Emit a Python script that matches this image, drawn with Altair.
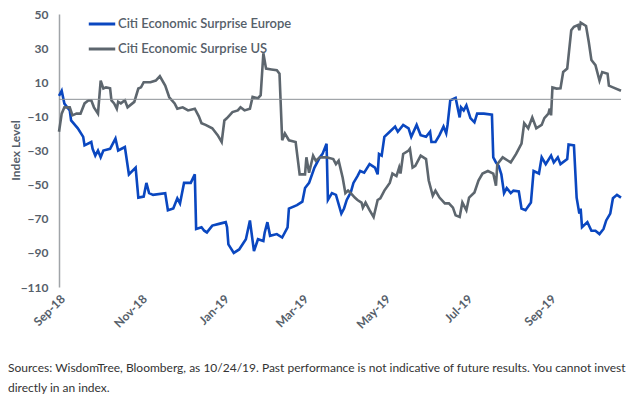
import altair as alt
import pandas as pd

series_names = ["Citi Economic Surprise Europe", "Citi Economic Surprise US"]
series_colors = ["#0a47c0", "#5d666e"]

europe_dates = [
    "2018-09-01", "2018-09-03", "2018-09-05", "2018-09-09", "2018-09-10", "2018-09-15",
    "2018-09-19", "2018-09-20", "2018-09-25", "2018-09-26", "2018-09-28", "2018-09-30",
    "2018-10-02", "2018-10-04", "2018-10-09", "2018-10-13", "2018-10-15", "2018-10-20",
    "2018-10-23", "2018-10-28", "2018-10-30", "2018-11-03", "2018-11-05", "2018-11-07",
    "2018-11-10", "2018-11-19", "2018-11-21", "2018-11-25", "2018-11-28", "2018-11-30",
    "2018-12-03", "2018-12-08", "2018-12-11", "2018-12-12", "2018-12-16", "2018-12-18",
    "2018-12-20", "2018-12-24", "2018-12-29", "2019-01-03", "2019-01-04", "2019-01-05",
    "2019-01-09", "2019-01-13", "2019-01-18", "2019-01-21", "2019-01-24", "2019-01-27",
    "2019-01-31", "2019-02-01", "2019-02-03", "2019-02-05", "2019-02-10", "2019-02-14",
    "2019-02-18", "2019-02-19", "2019-02-25", "2019-03-01", "2019-03-03", "2019-03-06",
    "2019-03-10", "2019-03-14", "2019-03-16", "2019-03-19", "2019-03-20", "2019-03-23",
    "2019-03-26", "2019-03-30", "2019-04-01", "2019-04-03", "2019-04-06", "2019-04-08",
    "2019-04-11", "2019-04-13", "2019-04-16", "2019-04-20", "2019-04-24", "2019-04-26",
    "2019-04-27", "2019-04-29", "2019-05-01", "2019-05-05", "2019-05-09", "2019-05-11",
    "2019-05-15", "2019-05-19", "2019-05-21", "2019-05-25", "2019-05-28", "2019-06-01",
    "2019-06-04", "2019-06-05", "2019-06-08", "2019-06-11", "2019-06-14", "2019-06-16",
    "2019-06-17", "2019-06-19", "2019-06-23", "2019-06-26", "2019-06-27", "2019-06-29",
    "2019-07-01", "2019-07-04", "2019-07-07", "2019-07-09", "2019-07-14", "2019-07-20",
    "2019-07-21", "2019-07-23", "2019-07-25", "2019-07-27", "2019-07-29", "2019-07-31",
    "2019-08-03", "2019-08-05", "2019-08-09", "2019-08-11", "2019-08-14", "2019-08-18",
    "2019-08-20", "2019-08-24", "2019-08-26", "2019-08-29", "2019-09-02", "2019-09-04",
    "2019-09-07", "2019-09-09", "2019-09-14", "2019-09-15", "2019-09-19", "2019-09-21",
    "2019-09-23", "2019-09-24", "2019-09-25", "2019-09-29", "2019-10-02", "2019-10-05",
    "2019-10-08", "2019-10-11", "2019-10-13", "2019-10-16", "2019-10-18", "2019-10-21",
    "2019-10-24",
]
europe_values = [
    2, 5, -2.5, -6.5, -12.4, -17,
    -22, -27, -25, -29, -33, -30,
    -34, -30, -29, -23, -30, -28,
    -44, -40, -57.6, -57, -49, -55,
    -56, -55, -65, -64, -58, -61,
    -49, -49, -44, -76, -75, -77,
    -78, -74, -73, -72, -75, -85,
    -90, -88, -82, -71, -89, -82,
    -83, -78, -72, -80, -79, -81,
    -75, -64, -62, -60, -52, -49,
    -40, -34, -32, -26, -59, -55,
    -56, -67, -64, -59, -54.6, -49,
    -45, -42, -43, -38, -40, -44,
    -32, -33, -22, -19, -16, -19,
    -15, -17, -22, -15, -21, -22,
    -19, -25, -25, -21, -16, -20,
    -15, -0.6, 0.8, -10.6, -4.7, -6.5,
    -3.5, -11, -13.5, -8.4, -8.4, -9,
    -34, -37, -39, -44, -55, -52,
    -55, -53.5, -54, -64, -65, -60.5,
    -42, -43.5, -34, -38, -33, -37,
    -34, -38, -35, -26.5, -27, -57.6,
    -67, -64, -75, -72, -77, -77,
    -79, -76, -71, -67, -58, -56,
    -57.6,
]

us_dates = [
    "2018-09-01", "2018-09-03", "2018-09-05", "2018-09-09", "2018-09-11", "2018-09-14",
    "2018-09-17", "2018-09-20", "2018-09-23", "2018-09-25", "2018-09-27", "2018-09-30",
    "2018-10-02", "2018-10-04", "2018-10-06", "2018-10-09", "2018-10-10", "2018-10-12",
    "2018-10-14", "2018-10-15", "2018-10-17", "2018-10-20", "2018-10-22", "2018-10-27",
    "2018-10-30", "2018-11-01", "2018-11-03", "2018-11-08", "2018-11-12", "2018-11-15",
    "2018-11-19", "2018-11-22", "2018-11-26", "2018-11-28", "2018-12-02", "2018-12-06",
    "2018-12-11", "2018-12-14", "2018-12-16", "2018-12-19", "2018-12-24", "2018-12-28",
    "2018-12-31", "2019-01-02", "2019-01-04", "2019-01-08", "2019-01-12", "2019-01-14",
    "2019-01-17", "2019-01-21", "2019-01-23", "2019-01-27", "2019-01-29", "2019-01-31",
    "2019-02-02", "2019-02-06", "2019-02-10", "2019-02-12", "2019-02-14", "2019-02-16",
    "2019-02-19", "2019-02-24", "2019-02-27", "2019-03-03", "2019-03-04", "2019-03-06",
    "2019-03-09", "2019-03-11", "2019-03-14", "2019-03-19", "2019-03-24", "2019-03-26",
    "2019-03-28", "2019-03-31", "2019-04-02", "2019-04-04", "2019-04-06", "2019-04-09",
    "2019-04-11", "2019-04-14", "2019-04-15", "2019-04-17", "2019-04-20", "2019-04-23",
    "2019-04-26", "2019-04-28", "2019-05-01", "2019-05-05", "2019-05-07", "2019-05-10",
    "2019-05-12", "2019-05-13", "2019-05-15", "2019-05-19", "2019-05-20", "2019-05-22",
    "2019-05-24", "2019-05-28", "2019-06-01", "2019-06-03", "2019-06-06", "2019-06-08",
    "2019-06-11", "2019-06-15", "2019-06-18", "2019-06-21", "2019-06-23", "2019-06-26",
    "2019-06-28", "2019-07-01", "2019-07-03", "2019-07-07", "2019-07-10", "2019-07-13",
    "2019-07-17", "2019-07-21", "2019-07-23", "2019-07-24", "2019-07-28", "2019-08-01",
    "2019-08-03", "2019-08-07", "2019-08-11", "2019-08-13", "2019-08-16", "2019-08-19",
    "2019-08-22", "2019-08-26", "2019-08-28", "2019-08-31", "2019-09-01", "2019-09-02",
    "2019-09-03", "2019-09-06", "2019-09-09", "2019-09-11", "2019-09-14", "2019-09-17",
    "2019-09-19", "2019-09-22", "2019-09-23", "2019-09-24", "2019-09-28", "2019-09-30",
    "2019-10-02", "2019-10-05", "2019-10-08", "2019-10-10", "2019-10-14", "2019-10-15",
    "2019-10-18", "2019-10-24",
]
us_values = [
    -19, -8.4, -4.7, -4.7, -9.4, -8.4,
    -8.4, -2.4, -0.6, -0.6, -4.7, -8.4,
    11, 6.3, 7, 6.5, -0.6, -2.4,
    -5.5, -1.5, -2.4, -0.6, -4.7, -1.5,
    6.3, 7, 10, 10, 11, 13.5,
    8, 1.2, -2.4, -5.5, -4.7, -6.5,
    -5.5, -10, -14, -15, -17, -21,
    -25, -12.4, -11, -7.5, -6.5, -4.7,
    -6.5, -5.5, 1.4, 0.6, 2.4, 27,
    18, 17.5, 17, 15, -24, -20,
    -24, -25, -44, -44, -34, -43,
    -33, -36, -34, -34, -35, -38,
    -36, -46, -55, -53.5, -55, -57.6,
    -59, -60.5, -63.5, -60.5, -65, -69,
    -59, -58, -53.5, -49, -43.5, -45,
    -40, -43.5, -32, -30, -29, -40,
    -39, -33, -35, -47.6, -56.5, -53.5,
    -57.6, -61, -61, -63.5, -68, -69,
    -60.5, -65, -57.6, -54.6, -47.6, -43.5,
    -42, -43.5, -50.6, -38, -34, -36,
    -37, -32, -26, -14, -17, -10.6,
    -17, -15, -11, -8.4, -5.5, -9.4,
    7, 6.3, 6.5, 16, 18, 40.5,
    42.5, 43.5, 40.5, 45, 43, 33.7,
    23, 20, 11, 16, 15, 8,
    7, 5,
]

y_ticks = [50, 30, 10, -10, -30, -50, -70, -90, -110]
x_tick_dates = ["2018-09-01", "2018-11-01", "2019-01-01", "2019-03-01",
                "2019-05-01", "2019-07-01", "2019-09-01"]
x_domain = ["2018-09-01", "2019-10-24"]
footnote_lines = [
    "Sources: WisdomTree, Bloomberg, as 10/24/19. Past performance is not indicative of future results. You cannot invest",
    "directly in an index.",
]


def dt(s):
    y, m, d = (int(p) for p in s.split("-"))
    return alt.DateTime(year=y, month=m, date=d)


df = pd.concat([
    pd.DataFrame({"date": pd.to_datetime(europe_dates), "value": europe_values,
                  "series": series_names[0]}),
    pd.DataFrame({"date": pd.to_datetime(us_dates), "value": us_values,
                  "series": series_names[1]}),
])

FONT = "Lato"
AXIS_COLOR = "#56606a"

y_scale = alt.Scale(domain=[-110, 50], nice=False, zero=False)
y_axis = alt.Axis(values=y_ticks, title="Index Level", grid=False, ticks=False,
                  domain=True, domainColor="#a0a4a8", domainWidth=1.5,
                  labelPadding=11, labelFontSize=12, labelFontWeight="bold",
                  labelColor=AXIS_COLOR, labelFont=FONT, labelOverlap=False,
                  labelFlush=False, titleFontSize=12, titleFontWeight="bold",
                  titleColor=AXIS_COLOR, titleFont=FONT, titleAngle=-90,
                  titleX=-37, titleY=136, titleAlign="center", titleBaseline="bottom")

lines = alt.Chart(df).mark_line(strokeWidth=2.6).encode(
    x=alt.X("date:T",
            scale=alt.Scale(domain=[dt(x_domain[0]), dt(x_domain[1])]),
            axis=alt.Axis(values=[dt(s) for s in x_tick_dates], format="%b-%y",
                          labelAngle=-45, title=None, domain=False, ticks=False,
                          grid=False, labelFontSize=12, labelFontWeight="bold",
                          labelColor=AXIS_COLOR, labelFont=FONT, labelPadding=6,
                          labelOverlap=False)),
    y=alt.Y("value:Q", scale=y_scale, axis=y_axis),
    color=alt.Color("series:N",
                    scale=alt.Scale(domain=series_names, range=series_colors),
                    legend=alt.Legend(title=None, orient="none", legendX=28, legendY=-5,
                                      symbolType="stroke", symbolSize=700,
                                      symbolStrokeWidth=3, labelFontSize=13,
                                      labelFontWeight=600, labelColor=AXIS_COLOR,
                                      labelFont=FONT, rowPadding=3, labelOffset=1,
                                      labelLimit=400, padding=0)),
)

zero_rule = alt.Chart(pd.DataFrame({"y": [0]})).mark_rule(
    color="#8c9196", strokeWidth=1).encode(y=alt.Y("y:Q", scale=y_scale, axis=y_axis))

foot1 = alt.Chart(pd.DataFrame({"t": [footnote_lines[0]]})).mark_text(
    align="left", baseline="alphabetic", fontSize=12, font=FONT, color="#333333"
).encode(x=alt.value(-51), y=alt.value(358), text="t:N")
foot2 = alt.Chart(pd.DataFrame({"t": [footnote_lines[1]]})).mark_text(
    align="left", baseline="alphabetic", fontSize=12, font=FONT, color="#333333"
).encode(x=alt.value(-51), y=alt.value(378), text="t:N")

chart = alt.layer(lines, zero_rule, foot1, foot2).properties(
    width=562, height=273,
    padding={"left": 51, "top": 6, "right": 8, "bottom": 110},
    autosize=alt.AutoSizeParams(type="none"),
).configure_view(stroke=None)

chart.save("out.html", embed_options={"renderer": "svg", "actions": False})
